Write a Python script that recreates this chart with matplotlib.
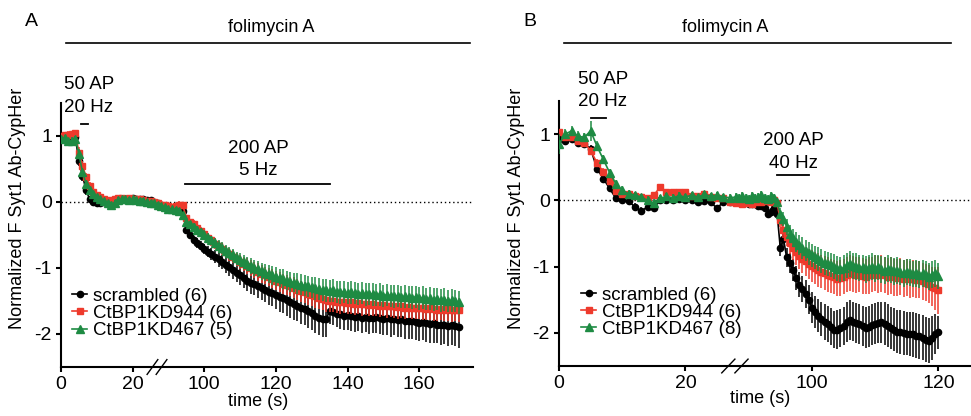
import numpy as np
import matplotlib
matplotlib.use('Agg')
import matplotlib.pyplot as plt
from matplotlib.lines import Line2D

plt.rcParams['font.family'] = ['Liberation Sans', 'DejaVu Sans']
plt.rcParams['font.size'] = 13

# ---------------- data ----------------
# time axis: 0-27 s, then (after the axis break) 88 s onwards
t_a = np.concatenate([np.arange(0, 28), np.arange(88, 172)])
t_b = np.concatenate([np.arange(0, 28), np.arange(88, 120.5, 0.5)])

labels_a = ['scrambled (6)', 'CtBP1KD944 (6)', 'CtBP1KD467 (5)']
labels_b = ['scrambled (6)', 'CtBP1KD944 (6)', 'CtBP1KD467 (8)']

scr_a = [0.98, 0.99, 0.98, 0.99, 0.98, 0.62, 0.40, 0.18, 0.04, 0.00,
         -0.02, -0.01, 0.00, -0.03, -0.04, 0.00, 0.03, 0.04, 0.04, 0.05,
         0.06, 0.05, 0.05, 0.04, 0.03, 0.03, 0.00, -0.02,
         -0.05, -0.06, -0.08, -0.09, -0.10, -0.12, -0.14, -0.42, -0.50, -0.57,
         -0.62, -0.66, -0.71, -0.75, -0.79, -0.83, -0.87, -0.91, -0.95, -0.99,
         -1.03, -1.07, -1.11, -1.15, -1.19, -1.22, -1.24, -1.27, -1.30, -1.33,
         -1.36, -1.38, -1.41, -1.44, -1.46, -1.49, -1.52, -1.55, -1.57, -1.60,
         -1.62, -1.65, -1.68, -1.72, -1.75, -1.77, -1.77, -1.65, -1.66, -1.69,
         -1.70, -1.72, -1.71, -1.73, -1.74, -1.73, -1.75, -1.74, -1.76, -1.75,
         -1.74, -1.76, -1.77, -1.76, -1.78, -1.77, -1.79, -1.78, -1.80, -1.81,
         -1.80, -1.82, -1.83, -1.82, -1.84, -1.85, -1.84, -1.86, -1.87, -1.86,
         -1.88, -1.87, -1.88, -1.90]
scr_a_err = [0.03, 0.03, 0.03, 0.04, 0.04, 0.08, 0.08, 0.07, 0.05, 0.04,
             0.04, 0.04, 0.04, 0.04, 0.04, 0.04, 0.04, 0.04, 0.04, 0.04,
             0.04, 0.04, 0.04, 0.04, 0.04, 0.04, 0.04, 0.04,
             0.04, 0.04, 0.04, 0.04, 0.04, 0.04, 0.05, 0.05, 0.06, 0.06,
             0.07, 0.07, 0.08, 0.09, 0.09, 0.10, 0.11, 0.11, 0.12, 0.13,
             0.13, 0.14, 0.15, 0.15, 0.16, 0.17, 0.17, 0.18, 0.19, 0.19,
             0.20, 0.20, 0.21, 0.22, 0.22, 0.23, 0.23, 0.24, 0.24, 0.25,
             0.25, 0.26, 0.26, 0.27, 0.27, 0.27, 0.28, 0.20, 0.21, 0.21,
             0.22, 0.22, 0.23, 0.22, 0.23, 0.23, 0.24, 0.23, 0.24, 0.24,
             0.25, 0.24, 0.25, 0.25, 0.26, 0.25, 0.26, 0.26, 0.27, 0.26,
             0.27, 0.27, 0.28, 0.27, 0.28, 0.28, 0.29, 0.28, 0.29, 0.29,
             0.30, 0.29, 0.30, 0.31]

kd944_a = [1.00, 1.02, 1.02, 1.03, 1.04, 0.75, 0.55, 0.38, 0.25, 0.15,
           0.10, 0.07, 0.04, 0.02, 0.03, 0.05, 0.06, 0.06, 0.05, 0.06,
           0.05, 0.04, 0.04, 0.03, 0.02, 0.01, 0.00, -0.02,
           -0.04, -0.05, -0.06, -0.07, -0.06, -0.04, -0.05, -0.24, -0.30, -0.34,
           -0.39, -0.44, -0.49, -0.54, -0.58, -0.63, -0.67, -0.71, -0.75, -0.79,
           -0.83, -0.87, -0.91, -0.94, -0.97, -1.00, -1.03, -1.06, -1.09, -1.11,
           -1.14, -1.16, -1.19, -1.21, -1.24, -1.26, -1.28, -1.30, -1.33, -1.35,
           -1.37, -1.39, -1.41, -1.43, -1.45, -1.47, -1.49, -1.50, -1.50, -1.51,
           -1.52, -1.51, -1.53, -1.52, -1.54, -1.53, -1.55, -1.54, -1.56, -1.55,
           -1.56, -1.57, -1.56, -1.58, -1.57, -1.58, -1.59, -1.58, -1.60, -1.59,
           -1.60, -1.61, -1.60, -1.61, -1.62, -1.61, -1.62, -1.63, -1.62, -1.63,
           -1.62, -1.64, -1.63, -1.64]
kd944_a_err = [0.04, 0.04, 0.05, 0.04, 0.05, 0.08, 0.07, 0.06, 0.05, 0.05,
               0.04, 0.04, 0.04, 0.04, 0.04, 0.04, 0.04, 0.04, 0.04, 0.04,
               0.04, 0.04, 0.04, 0.04, 0.04, 0.04, 0.04, 0.04,
               0.04, 0.04, 0.04, 0.04, 0.05, 0.05, 0.05, 0.05, 0.05, 0.06,
               0.06, 0.06, 0.07, 0.07, 0.08, 0.08, 0.08, 0.09, 0.09, 0.10,
               0.10, 0.10, 0.11, 0.11, 0.12, 0.12, 0.12, 0.13, 0.13, 0.13,
               0.14, 0.14, 0.14, 0.15, 0.15, 0.15, 0.15, 0.16, 0.16, 0.16,
               0.16, 0.17, 0.17, 0.17, 0.17, 0.17, 0.18, 0.17, 0.17, 0.17,
               0.17, 0.17, 0.17, 0.17, 0.17, 0.17, 0.17, 0.17, 0.17, 0.17,
               0.17, 0.17, 0.17, 0.18, 0.17, 0.17, 0.18, 0.17, 0.18, 0.17,
               0.18, 0.17, 0.18, 0.18, 0.17, 0.18, 0.18, 0.18, 0.17, 0.18,
               0.18, 0.18, 0.18, 0.18]

kd467_a = [0.96, 0.97, 0.92, 0.93, 0.96, 0.73, 0.45, 0.28, 0.18, 0.12,
           0.07, 0.04, 0.01, -0.02, -0.04, -0.01, 0.03, 0.04, 0.04, 0.03,
           0.04, 0.03, 0.02, 0.02, 0.00, -0.01, -0.02, -0.04,
           -0.06, -0.08, -0.10, -0.11, -0.12, -0.14, -0.20, -0.30, -0.34, -0.38,
           -0.42, -0.46, -0.50, -0.54, -0.58, -0.62, -0.66, -0.70, -0.74, -0.77,
           -0.81, -0.85, -0.88, -0.91, -0.94, -0.97, -1.00, -1.02, -1.05, -1.07,
           -1.09, -1.11, -1.13, -1.15, -1.17, -1.19, -1.21, -1.22, -1.24, -1.25,
           -1.27, -1.28, -1.29, -1.31, -1.32, -1.33, -1.34, -1.35, -1.34, -1.36,
           -1.37, -1.36, -1.38, -1.37, -1.38, -1.39, -1.38, -1.40, -1.39, -1.40,
           -1.41, -1.40, -1.42, -1.41, -1.42, -1.43, -1.42, -1.44, -1.43, -1.44,
           -1.45, -1.44, -1.46, -1.45, -1.47, -1.46, -1.48, -1.47, -1.49, -1.48,
           -1.50, -1.49, -1.50, -1.52]
kd467_a_err = [0.04, 0.05, 0.05, 0.05, 0.04, 0.08, 0.07, 0.06, 0.05, 0.05,
               0.04, 0.04, 0.04, 0.04, 0.04, 0.04, 0.04, 0.04, 0.04, 0.04,
               0.04, 0.04, 0.04, 0.04, 0.04, 0.04, 0.04, 0.04,
               0.04, 0.04, 0.04, 0.04, 0.04, 0.05, 0.05, 0.05, 0.05, 0.06,
               0.06, 0.06, 0.07, 0.07, 0.07, 0.08, 0.08, 0.09, 0.09, 0.09,
               0.10, 0.10, 0.11, 0.11, 0.11, 0.12, 0.12, 0.12, 0.13, 0.13,
               0.13, 0.14, 0.14, 0.14, 0.15, 0.15, 0.15, 0.15, 0.16, 0.16,
               0.16, 0.16, 0.16, 0.17, 0.17, 0.17, 0.17, 0.17, 0.17, 0.17,
               0.17, 0.17, 0.17, 0.17, 0.17, 0.17, 0.17, 0.17, 0.17, 0.17,
               0.17, 0.17, 0.17, 0.17, 0.17, 0.17, 0.17, 0.17, 0.17, 0.17,
               0.17, 0.17, 0.17, 0.17, 0.17, 0.17, 0.17, 0.17, 0.17, 0.17,
               0.17, 0.17, 0.17, 0.17]

scr_b = [0.93, 0.90, 0.92, 0.86, 0.85, 0.78, 0.48, 0.33, 0.18, 0.03,
         0.00, -0.01, -0.10, -0.16, -0.10, -0.12, 0.00, 0.01, 0.01, 0.02,
         0.01, 0.00, -0.02, -0.01, -0.03, -0.12, -0.02, -0.03,
         -0.03, -0.02, -0.04, -0.03, -0.05, -0.06, -0.06, -0.08, -0.09, -0.12,
         -0.20, -0.18, -0.12, -0.20, -0.72, -0.58, -0.86, -0.95, -1.05, -1.17,
         -1.27, -1.34, -1.41, -1.50, -1.62, -1.68, -1.74, -1.79, -1.83, -1.87,
         -1.91, -1.95, -1.95, -1.93, -1.90, -1.84, -1.81, -1.83, -1.85, -1.87,
         -1.90, -1.92, -1.91, -1.88, -1.86, -1.85, -1.84, -1.86, -1.89, -1.93,
         -1.95, -1.98, -1.99, -2.00, -2.01, -2.02, -2.02, -2.04, -2.05, -2.07,
         -2.10, -2.12, -2.08, -2.02, -1.99]
scr_b_err = [0.04, 0.04, 0.04, 0.05, 0.05, 0.06, 0.06, 0.06, 0.05, 0.05,
             0.05, 0.05, 0.06, 0.06, 0.06, 0.05, 0.04, 0.04, 0.04, 0.04,
             0.04, 0.04, 0.04, 0.04, 0.04, 0.05, 0.04, 0.04,
             0.04, 0.04, 0.04, 0.04, 0.04, 0.04, 0.05, 0.05, 0.05, 0.05,
             0.06, 0.06, 0.06, 0.06, 0.12, 0.12, 0.14, 0.15, 0.17, 0.18,
             0.19, 0.20, 0.21, 0.22, 0.23, 0.24, 0.25, 0.26, 0.27, 0.27,
             0.28, 0.28, 0.29, 0.29, 0.29, 0.30, 0.30, 0.30, 0.30, 0.30,
             0.30, 0.31, 0.31, 0.31, 0.31, 0.31, 0.31, 0.32, 0.32, 0.32,
             0.32, 0.32, 0.33, 0.33, 0.33, 0.33, 0.34, 0.34, 0.34, 0.34,
             0.34, 0.34, 0.33, 0.30, 0.25]

kd944_b = [1.03, 0.96, 0.95, 0.90, 0.87, 0.75, 0.57, 0.43, 0.30, 0.14,
           0.10, 0.10, 0.07, 0.05, 0.03, 0.08, 0.20, 0.12, 0.13, 0.12,
           0.13, 0.07, 0.06, 0.10, 0.05, 0.04, 0.03, -0.03,
           -0.04, -0.02, -0.05, -0.04, -0.02, -0.06, -0.03, 0.00, -0.02, -0.01,
           0.00, -0.02, 0.00, -0.04, -0.30, -0.45, -0.55, -0.65, -0.72, -0.78,
           -0.84, -0.88, -0.92, -0.96, -0.99, -1.02, -1.05, -1.08, -1.10, -1.12,
           -1.14, -1.16, -1.18, -1.17, -1.15, -1.12, -1.10, -1.11, -1.13, -1.12,
           -1.14, -1.15, -1.13, -1.12, -1.10, -1.12, -1.11, -1.13, -1.15, -1.14,
           -1.16, -1.17, -1.15, -1.18, -1.17, -1.19, -1.18, -1.20, -1.19, -1.22,
           -1.24, -1.26, -1.30, -1.33, -1.36]
kd944_b_err = [0.05, 0.04, 0.04, 0.05, 0.05, 0.06, 0.06, 0.06, 0.05, 0.05,
               0.04, 0.04, 0.04, 0.04, 0.04, 0.04, 0.05, 0.04, 0.04, 0.04,
               0.04, 0.04, 0.04, 0.04, 0.04, 0.04, 0.04, 0.04,
               0.05, 0.05, 0.05, 0.05, 0.05, 0.05, 0.05, 0.05, 0.05, 0.05,
               0.05, 0.05, 0.05, 0.06, 0.10, 0.12, 0.14, 0.16, 0.18, 0.19,
               0.20, 0.21, 0.22, 0.23, 0.24, 0.24, 0.25, 0.25, 0.26, 0.26,
               0.26, 0.26, 0.27, 0.27, 0.26, 0.26, 0.27, 0.27, 0.27, 0.27,
               0.27, 0.27, 0.28, 0.27, 0.27, 0.28, 0.28, 0.27, 0.28, 0.28,
               0.28, 0.28, 0.28, 0.28, 0.28, 0.28, 0.28, 0.28, 0.28, 0.28,
               0.28, 0.29, 0.30, 0.32, 0.35]

kd467_b = [0.85, 1.00, 1.05, 0.97, 0.95, 1.05, 0.82, 0.62, 0.42, 0.25,
           0.15, 0.10, 0.08, 0.05, 0.00, -0.04, 0.03, 0.06, 0.04, 0.07,
           0.05, 0.08, 0.05, 0.09, 0.06, 0.08, 0.05, 0.04,
           0.05, 0.03, 0.06, 0.04, 0.02, 0.07, 0.03, 0.05, 0.08, 0.04,
           0.02, 0.06, 0.03, -0.03, -0.20, -0.28, -0.40, -0.50, -0.57, -0.63,
           -0.68, -0.72, -0.76, -0.80, -0.83, -0.86, -0.89, -0.92, -0.94, -0.96,
           -0.98, -1.00, -1.03, -1.04, -1.02, -0.98, -0.96, -0.99, -1.00, -1.02,
           -1.01, -1.04, -1.02, -1.00, -1.03, -1.01, -1.04, -1.06, -1.03, -1.05,
           -1.07, -1.06, -1.08, -1.10, -1.08, -1.09, -1.11, -1.10, -1.12, -1.10,
           -1.12, -1.15, -1.12, -1.10, -1.14]
kd467_b_err = [0.15, 0.08, 0.08, 0.07, 0.07, 0.15, 0.08, 0.07, 0.06, 0.06,
               0.06, 0.06, 0.05, 0.05, 0.06, 0.06, 0.05, 0.05, 0.05, 0.05,
               0.05, 0.05, 0.05, 0.05, 0.05, 0.05, 0.05, 0.05,
               0.06, 0.06, 0.06, 0.06, 0.06, 0.06, 0.06, 0.06, 0.06, 0.06,
               0.06, 0.06, 0.06, 0.07, 0.08, 0.10, 0.12, 0.13, 0.14, 0.15,
               0.15, 0.16, 0.16, 0.17, 0.17, 0.17, 0.18, 0.18, 0.18, 0.18,
               0.18, 0.19, 0.19, 0.19, 0.19, 0.19, 0.19, 0.19, 0.20, 0.19,
               0.19, 0.20, 0.19, 0.20, 0.20, 0.19, 0.20, 0.20, 0.20, 0.19,
               0.20, 0.20, 0.20, 0.20, 0.20, 0.20, 0.20, 0.20, 0.20, 0.20,
               0.20, 0.21, 0.20, 0.20, 0.20]

# stimulation periods (s) and bar heights
stim_a = [(5.5, 7.5, 1.18), (94.5, 135, 0.27)]
stim_b = [(5, 7.5, 1.24), (94.5, 99.5, 0.39)]

colors = ['#000000', '#EE3A2C', '#1E8B43']
markers = ['o', 's', '^']
msizes = [4.5, 4.5, 5.5]


# broken time axis: 28 s .. 88 s is left out
def fwd(t):
    t = np.asarray(t, dtype=float)
    return np.where(t <= 28, t, np.where(t >= 88, t - 60, 28.0))


def inv(u):
    u = np.asarray(u, dtype=float)
    return np.where(u <= 28, u, u + 60)


fig = plt.figure(figsize=(9.71, 4.16), dpi=100)
ax_a = fig.add_axes([61 / 971, 1 - 367 / 416, 412 / 971, 264 / 416])
ax_b = fig.add_axes([559 / 971, 1 - 366 / 416, 411 / 971, 265 / 416])


def draw_panel(ax, t, series, errs, labels, xmax, xticks, brk, leg_xy):
    ax.set_xscale('function', functions=(fwd, inv))
    ax.axhline(0, color='k', lw=1.0, ls=(0, (1, 2)), zorder=1)
    for i in [1, 0, 2]:
        ax.errorbar(t, series[i], yerr=errs[i], color=colors[i], marker=markers[i],
                    ms=msizes[i], mec=colors[i], lw=1.2, elinewidth=1.1, capsize=0,
                    zorder=3 + i)
    ax.set_xlim(0, xmax)
    ax.set_ylim(-2.5, 1.5)
    ax.set_xticks(xticks)
    ax.set_xticklabels([str(x) for x in xticks])
    ax.xaxis.set_minor_locator(matplotlib.ticker.NullLocator())
    ax.set_yticks([1, 0, -1, -2])
    ax.set_yticklabels(['1', '0', '-1', '-2'])
    for s in ['top', 'right']:
        ax.spines[s].set_visible(False)
    for s in ['left', 'bottom']:
        ax.spines[s].set_linewidth(1.5)
    ax.tick_params(direction='out', length=3.5, width=1.5, labelsize=14, pad=3)

    # axis break marks
    for xc in brk[0]:
        ax.plot([xc - brk[1], xc + brk[1]], [-brk[2], brk[2]], color='k', lw=1.0,
                transform=ax.transAxes, clip_on=False)

    handles = [Line2D([], [], color=colors[i], marker=markers[i], ms=msizes[i],
                      lw=1.2) for i in range(3)]
    ax.legend(handles, labels, loc='upper left', bbox_to_anchor=leg_xy,
              frameon=False, fontsize=13.5, handlelength=0.8, handletextpad=0.3,
              labelspacing=0.0, borderpad=0, borderaxespad=0)
    ax.set_ylabel('Normalized F Syt1 Ab-CypHer', fontsize=13)
    ax.set_xlabel('time (s)', fontsize=13)


draw_panel(ax_a, t_a, [scr_a, kd944_a, kd467_a], [scr_a_err, kd944_a_err, kd467_a_err],
           labels_a, 175, [0, 20, 100, 120, 140, 160],
           ([0.222, 0.244], 0.013, 0.028), (0.027, 0.30))
draw_panel(ax_b, t_b, [scr_b, kd944_b, kd467_b], [scr_b_err, kd944_b_err, kd467_b_err],
           labels_b, 125, [0, 20, 100, 120],
           ([0.412, 0.444], 0.016, 0.026), (0.054, 0.30))

ax_a.yaxis.set_label_coords(-0.085, 0.60)
ax_b.yaxis.set_label_coords(-0.083, 0.596)
ax_a.xaxis.set_label_coords(0.478, -0.1)
ax_b.xaxis.set_label_coords(0.49, -0.09)

# stimulation bars and labels
for ax, stims in [(ax_a, stim_a), (ax_b, stim_b)]:
    for t0, t1, y in stims:
        ax.plot([t0, t1], [y, y], color='k', lw=1.3, clip_on=False)

ax_a.text(7.8, 1.78, '50 AP', ha='center', va='center', fontsize=13.5)
ax_a.text(7.8, 1.43, '20 Hz', ha='center', va='center', fontsize=13.5)
ax_a.text(115, 0.81, '200 AP', ha='center', va='center', fontsize=13.5)
ax_a.text(115, 0.48, '5 Hz', ha='center', va='center', fontsize=13.5)
ax_b.text(6.9, 1.82, '50 AP', ha='center', va='center', fontsize=13.5)
ax_b.text(6.9, 1.49, '20 Hz', ha='center', va='center', fontsize=13.5)
ax_b.text(97, 0.90, '200 AP', ha='center', va='center', fontsize=13.5)
ax_b.text(97, 0.55, '40 Hz', ha='center', va='center', fontsize=13.5)

# folimycin bars and panel letters
fig.text(271 / 971, 1 - 28 / 416, 'folimycin A', ha='center', va='center', fontsize=13)
fig.text(725 / 971, 1 - 28 / 416, 'folimycin A', ha='center', va='center', fontsize=13)
fig.add_artist(Line2D([66 / 971, 470 / 971], [1 - 43 / 416] * 2, color='k', lw=1.2))
fig.add_artist(Line2D([564 / 971, 951 / 971], [1 - 43 / 416] * 2, color='k', lw=1.2))
fig.text(31 / 971, 1 - 21 / 416, 'A', ha='center', va='center', fontsize=14)
fig.text(530 / 971, 1 - 21 / 416, 'B', ha='center', va='center', fontsize=14)

fig.savefig('out.png', dpi=100)
